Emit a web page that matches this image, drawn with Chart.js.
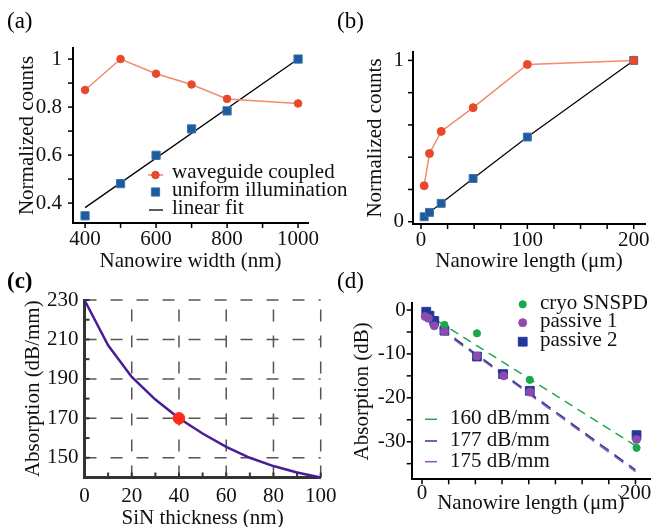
<!DOCTYPE html>
<html><head><meta charset="utf-8">
<script src="https://cdn.jsdelivr.net/npm/chart.js"></script>
<style>
html,body{margin:0;padding:0;background:#fff;overflow:hidden;width:653px;height:527px;position:relative;}
canvas{position:absolute;left:0;top:0;}
</style></head><body>
<canvas id="ca" width="700" height="560"></canvas>
<canvas id="cb" width="700" height="560"></canvas>
<canvas id="cc" width="700" height="560"></canvas>
<canvas id="cd" width="700" height="560"></canvas>
<script>
// ---------------- data ----------------
// (a)
const aWidths    = [400, 500, 600, 700, 800, 1000];
const aWaveguide = [0.871, 1.0, 0.939, 0.894, 0.834, 0.815];
const aUniform   = [0.347, 0.481, 0.599, 0.709, 0.784, 1.0];
const aFitX      = [400, 1000];
const aFitY      = [0.381, 1.0];
const aXTicks  = [400, 600, 800, 1000];
const aXLabels = ['400', '600', '800', '1000'];
const aXMinor  = [500, 700, 900];
const aYTicks  = [0.4, 0.6, 0.8, 1];
const aYLabels = ['0.4', '0.6', '0.8', '1'];
const aYMinor  = [0.5, 0.7, 0.9];
// (b)
const bLengths   = [3, 8, 19, 49, 100, 200];
const bWaveguide = [0.223, 0.423, 0.56, 0.707, 0.975, 1.0];
const bUniform   = [0.031, 0.058, 0.114, 0.268, 0.525, 1.0];
const bXTicks  = [0, 100, 200];
const bXLabels = ['0', '100', '200'];
const bXMinor  = [25, 50, 75, 125, 150, 175];
const bYTicks  = [0, 1];
const bYLabels = ['0', '1'];
const bYMinor  = [0.2, 0.4, 0.6, 0.8];
// (c)
const cThickness  = [0, 10, 20, 30, 40, 50, 60, 70, 80, 90, 100];
const cAbsorption = [230, 207, 191, 179.5, 170, 162.3, 155.5, 150, 145.8, 142.5, 140];
const cChosenX = [40];
const cChosenY = [170];
const cXTicks  = [0, 20, 40, 60, 80, 100];
const cXLabels = ['0', '20', '40', '60', '80', '100'];
const cXMinor  = [10, 30, 50, 70, 90];
const cYTicks  = [150, 170, 190, 210, 230];
const cYLabels = ['150', '170', '190', '210', '230'];
const cYMinor  = [160, 180, 200, 220];
// (d)
const dCryoX = [21, 51.5, 101, 201];
const dCryoY = [-3.4, -5.3, -15.9, -31.4];
const dP1X = [3, 6, 11.5, 21, 51.5, 76.5, 101, 201];
const dP1Y = [-1.5, -1.9, -3.6, -4.9, -10.5, -15.0, -18.7, -29.5];
const dP2X = [4, 7, 11.5, 21, 51.5, 76, 101, 201];
const dP2Y = [-0.4, -1.3, -2.5, -4.7, -10.6, -14.6, -18.4, -28.5];
const dFitX   = [3, 200];
const dFit160 = [-0.7, -30.9];
const dFit177 = [-1.6, -36.4];
const dFit175 = [-1.9, -36.8];
const dXTicks  = [0, 200];
const dXLabels = ['0', '200'];
const dXMinor  = [25, 50, 75, 100, 125, 150, 175];
const dYTicks  = [0, -10, -20, -30];
const dYLabels = ['0', '-10', '-20', '-30'];
const dYMinor  = [-5, -15, -25, -35];

// ---------------- helpers ----------------
const FONT = "'Liberation Serif','Times New Roman',serif";
const TXT = '#111';
const W = 700, H = 560;
const pts = (xs, ys) => xs.map((x, i) => ({x, y: ys[i]}));

function mkScale(o) {
  return {
    type: 'linear', min: o.min, max: o.max,
    afterBuildTicks: s => { s.ticks = o.ticks.map(v => ({value: v})); },
    afterFit: s => { if (o.axis === 'x') s.height = o.size; else s.width = o.size; },
    ticks: { autoSkip: false, maxRotation: 0, padding: o.pad, color: TXT,
             font: {family: FONT, size: 21}, callback: (v, i) => o.labels[i] },
    grid: { display: false, drawTicks: false },
    border: { display: true, color: o.bc || '#000', width: o.bw || 2 },
    title: { display: true, text: o.title, color: TXT,
             font: {family: FONT, size: 21, lineHeight: o.lh || 1.2}, padding: {top: 0, bottom: 0} }
  };
}

function drawMarker(ctx, ds, x, y) {
  const r = ds.pointRadius;
  ctx.save();
  ctx.fillStyle = ds.pointBackgroundColor;
  ctx.strokeStyle = ds.pointBorderColor || ds.pointBackgroundColor;
  ctx.lineWidth = ds.pointBorderWidth || 1;
  ctx.setLineDash([]);
  ctx.beginPath();
  if (ds.pointStyle === 'rect') { const s = r * Math.SQRT1_2; ctx.rect(x - s, y - s, 2 * s, 2 * s); }
  else ctx.arc(x, y, r, 0, Math.PI * 2);
  ctx.fill(); ctx.stroke();
  ctx.restore();
}

const decor = {
  id: 'decor',
  beforeDatasetsDraw(chart, args, o) {
    if (!o.grid) return;
    const {ctx, chartArea: ca, scales: {x, y}} = chart;
    ctx.save();
    ctx.strokeStyle = o.grid.color; ctx.lineWidth = o.grid.width; ctx.setLineDash(o.grid.dash);
    o.grid.x.forEach(v => { const p = x.getPixelForValue(v); ctx.beginPath(); ctx.moveTo(p, ca.bottom); ctx.lineTo(p, ca.top); ctx.stroke(); });
    o.grid.y.forEach(v => { const p = y.getPixelForValue(v); ctx.beginPath(); ctx.moveTo(ca.left, p); ctx.lineTo(ca.right, p); ctx.stroke(); });
    ctx.restore();
  },
  afterDraw(chart, args, o) {
    const {ctx, chartArea: ca, scales: {x, y}} = chart;
    ctx.save();
    ctx.strokeStyle = o.tickColor; ctx.lineWidth = o.tickWidth; ctx.setLineDash([]);
    const d = o.inward ? -1 : 1, L = o.tickLen;
    o.xTicks.forEach(v => { const p = x.getPixelForValue(v); ctx.beginPath(); ctx.moveTo(p, ca.bottom); ctx.lineTo(p, ca.bottom + d * L); ctx.stroke(); });
    o.yTicks.forEach(v => { const p = y.getPixelForValue(v); ctx.beginPath(); ctx.moveTo(ca.left, p); ctx.lineTo(ca.left - d * L, p); ctx.stroke(); });
    // legend
    ctx.font = '21px ' + FONT; ctx.fillStyle = TXT; ctx.textBaseline = 'middle'; ctx.textAlign = 'left';
    (o.legend || []).forEach(it => {
      const ds = chart.data.datasets[it.ds];
      if (it.line) {
        ctx.save(); ctx.strokeStyle = ds.borderColor; ctx.lineWidth = ds.borderWidth; ctx.setLineDash([]);
        ctx.beginPath(); ctx.moveTo(it.mx - it.line / 2, it.my); ctx.lineTo(it.mx + it.line / 2, it.my); ctx.stroke(); ctx.restore();
      }
      if (it.point) drawMarker(ctx, ds, it.mx, it.my);
      ctx.fillStyle = TXT;
      ctx.fillText(it.text, it.tx, it.ty);
    });
    // panel label
    if (o.panel) {
      ctx.font = (o.panel.bold ? 'bold ' : '') + '23px ' + FONT;
      ctx.fillStyle = '#000'; ctx.textBaseline = 'middle'; ctx.textAlign = 'left';
      ctx.fillText(o.panel.text, o.panel.x, o.panel.y);
    }
    ctx.restore();
  }
};

function mkChart(id, g, datasets, sx, sy, dec) {
  sx.axis = 'x'; sy.axis = 'y';
  sx.size = g.xBottom - g.bottom; sy.size = g.left - g.yLeft;
  return new Chart(document.getElementById(id), {
    type: 'scatter',
    data: { datasets },
    options: {
      responsive: false, animation: false, events: [],
      layout: { padding: { left: g.yLeft, top: g.top, right: W - g.right, bottom: H - g.xBottom } },
      scales: { x: mkScale(sx), y: mkScale(sy) },
      plugins: { legend: {display: false}, tooltip: {enabled: false}, decor: dec }
    },
    plugins: [decor]
  });
}

// ---------------- (a) ----------------
mkChart('ca', {left: 73, right: 308, top: 48, bottom: 223, yLeft: 14.4, xBottom: 273.6}, [
  {data: pts(aWidths, aWaveguide), showLine: true, borderColor: '#F4896B', borderWidth: 1.5,
   pointStyle: 'circle', pointRadius: 3.8, pointBackgroundColor: '#E8482B', pointBorderColor: '#E8482B', pointBorderWidth: 1},
  {data: pts(aWidths, aUniform), showLine: false, pointStyle: 'rect', pointRadius: 5.8,
   pointBackgroundColor: '#1F5B9C', pointBorderColor: '#3A72B0', pointBorderWidth: 1},
  {data: pts(aFitX, aFitY), showLine: true, borderColor: '#000', borderWidth: 1.3, pointRadius: 0}
], {min: 366, max: 1028, ticks: aXTicks, labels: aXLabels, pad: 4, title: 'Nanowire width (nm)'},
   {min: 0.317, max: 1.046, ticks: aYTicks, labels: aYLabels, pad: 11, title: 'Normalized counts'},
   {tickColor: '#000', tickWidth: 1.5, tickLen: 5, inward: false,
    xTicks: aXTicks.concat(aXMinor), yTicks: aYTicks.concat(aYMinor),
    legend: [
      {ds: 0, line: 15, point: true, mx: 155.5, my: 175, text: 'waveguide coupled', tx: 172, ty: 172},
      {ds: 1, point: true, mx: 155.5, my: 192, text: 'uniform illumination', tx: 172, ty: 190},
      {ds: 2, line: 14, mx: 156, my: 210, text: 'linear fit', tx: 172, ty: 208}
    ],
    panel: {text: '(a)', x: 7, y: 22}});

// ---------------- (b) ----------------
mkChart('cb', {left: 413, right: 645, top: 52, bottom: 224, yLeft: 362.4, xBottom: 273.6}, [
  {data: pts(bLengths, bWaveguide), showLine: true, borderColor: '#F4896B', borderWidth: 1.5,
   pointStyle: 'circle', pointRadius: 4, pointBackgroundColor: '#E8482B', pointBorderColor: '#E8482B', pointBorderWidth: 1},
  {data: pts(bLengths, bUniform), showLine: true, borderColor: '#000', borderWidth: 1.2, pointStyle: 'rect', pointRadius: 5.6,
   pointBackgroundColor: '#1F5B9C', pointBorderColor: '#3A72B0', pointBorderWidth: 1}
], {min: -7.5, max: 210.6, ticks: bXTicks, labels: bXLabels, pad: 3.5, title: 'Nanowire length (\u03bcm)'},
   {min: -0.014, max: 1.052, ticks: bYTicks, labels: bYLabels, pad: 9, title: 'Normalized counts'},
   {tickColor: '#000', tickWidth: 1.5, tickLen: 5, inward: false,
    xTicks: bXTicks.concat(bXMinor), yTicks: bYTicks.concat(bYMinor),
    panel: {text: '(b)', x: 337, y: 22}});

// ---------------- (c) ----------------
mkChart('cc', {left: 84.5, right: 320.7, top: 300, bottom: 477.5, yLeft: 20.4, xBottom: 530.6}, [
  {data: pts(cChosenX, cChosenY), showLine: false, pointStyle: 'circle', pointRadius: 5.8,
   pointBackgroundColor: '#FF2A18', pointBorderColor: '#FF2A18', pointBorderWidth: 1},
  {data: pts(cThickness, cAbsorption), showLine: true, borderColor: '#4A1C96', borderWidth: 2.5, pointRadius: 0, clip: false}
], {min: 0, max: 100, ticks: cXTicks, labels: cXLabels, pad: 6.5, title: 'SiN thickness (nm)', bc: '#333', bw: 3},
   {min: 140, max: 230, ticks: cYTicks, labels: cYLabels, pad: 6, title: 'Absorption (dB/mm)', bc: '#333', bw: 3},
   {tickColor: '#333', tickWidth: 2, tickLen: 5, inward: true,
    xTicks: cXTicks.concat(cXMinor), yTicks: cYTicks.concat(cYMinor),
    grid: {x: [20, 40, 60, 80, 100], y: [150, 170, 190, 210, 230], color: '#555', width: 1.5, dash: [12, 14]},
    panel: {text: '(c)', x: 7, y: 282, bold: true}});

// ---------------- (d) ----------------
mkChart('cd', {left: 411.7, right: 650, top: 303.3, bottom: 479.3, yLeft: 349.4, xBottom: 515.6}, [
  {data: pts(dP1X, dP1Y), showLine: false, pointStyle: 'circle', pointRadius: 4,
   pointBackgroundColor: '#8D4BAE', pointBorderColor: '#8D4BAE', pointBorderWidth: 1},
  {data: pts(dCryoX, dCryoY), showLine: false, pointStyle: 'circle', pointRadius: 3.6,
   pointBackgroundColor: '#19A84A', pointBorderColor: '#19A84A', pointBorderWidth: 1},
  {data: pts(dP2X, dP2Y), showLine: false, pointStyle: 'rect', pointRadius: 6.2,
   pointBackgroundColor: '#22379B', pointBorderColor: '#22379B', pointBorderWidth: 1},
  {data: pts(dFitX, dFit160), showLine: true, borderColor: '#22A84A', borderWidth: 1.5, borderDash: [9, 6], pointRadius: 0},
  {data: pts(dFitX, dFit177), showLine: true, borderColor: '#283C92', borderWidth: 1.5, borderDash: [11, 7], pointRadius: 0},
  {data: pts(dFitX, dFit175), showLine: true, borderColor: '#9056B0', borderWidth: 1.5, borderDash: [11, 7], pointRadius: 0}
], {min: -9.65, max: 213.6, ticks: dXTicks, labels: dXLabels, pad: 2, title: 'Nanowire length (\u03bcm)'},
   {min: -38.56, max: 1.53, ticks: dYTicks, labels: dYLabels, pad: 6, title: 'Absorption (dB)'},
   {tickColor: '#000', tickWidth: 1.5, tickLen: 5, inward: false,
    xTicks: dXTicks.concat(dXMinor), yTicks: dYTicks.concat(dYMinor),
    legend: [
      {ds: 1, point: true, mx: 522.7, my: 304.3, text: 'cryo SNSPD', tx: 540, ty: 303.5},
      {ds: 0, point: true, mx: 522.7, my: 322.7, text: 'passive 1', tx: 540, ty: 321.5},
      {ds: 2, point: true, mx: 522.7, my: 341.7, text: 'passive 2', tx: 540, ty: 340},
      {ds: 3, line: 12, mx: 431, my: 419.3, text: '160 dB/mm', tx: 450, ty: 418},
      {ds: 4, line: 12, mx: 431, my: 441, text: '177 dB/mm', tx: 450, ty: 440},
      {ds: 5, line: 12, mx: 431, my: 461.7, text: '175 dB/mm', tx: 450, ty: 461}
    ],
    panel: {text: '(d)', x: 337, y: 282}});
</script>
</body></html>
